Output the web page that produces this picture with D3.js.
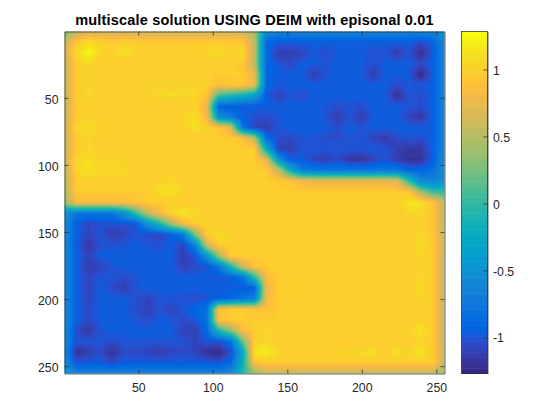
<!DOCTYPE html>
<meta charset="utf-8">
<title>multiscale solution</title>
<style>

body {
  margin: 0;
  background: #fff;
}

text {
  font-family: "Liberation Sans", Arial, sans-serif;
  fill: #262626;
}

.domain, .tick line {
  stroke: #262626;
  stroke-width: .7px;
}

</style>
<body>
<script src="https://d3js.org/d3.v7.min.js"></script>
<script>

var w = 560,
    h = 420;

var titleText = "multiscale solution USING DEIM with episonal 0.01";
var xTicks = [50, 100, 150, 200, 250];
var yTicks = [50, 100, 150, 200, 250];
var barTicks = [-1, -0.5, 0, 0.5, 1];
var barTickLabels = ["-1", "-0.5", "0", "0.5", "1"];
var colorLimits = [-1.27, 1.284];

// solution on a coarse 33 x 33 lattice, rows top to bottom
var solution = [
[.25,.5,.62,.62,.6,.6,.6,.6,.6,.6,.6,.6,.6,.6,.6,.6,.42,-.6,-.64,-.64,-.64,-.64,-.64,-.64,-.64,-.64,-.64,-.64,-.64,-.64,-.64,-.62,-.45],
[.55,.97,1.08,1.02,.96,1.02,.97,.97,.97,.97,.97,.97,.97,.97,.97,.95,.55,-.88,-.97,-.97,-.97,-.97,-.97,-.97,-.97,-.97,-.97,-.97,-.97,-.97,-1.04,-.95,-.6],
[.6,1.05,1.27,1.05,1,1.12,1.01,.97,.97,.97,.97,.97,1.05,1.1,1.01,1.08,.55,-.9,-1.12,-1.12,-1.08,-.98,-1.04,-.98,-.97,-.97,-1.03,-1,-1.12,-1,-1.22,-.98,-.6],
[.55,.97,1.08,.97,.97,.97,.97,.97,.97,.97,.97,.97,.97,.97,.97,.95,.55,-.9,-1,-1.06,-.97,-.97,-1,-.97,-.97,-.97,-1.03,-.97,-.97,-.97,-1.05,-.95,-.6],
[.55,.97,1.02,.97,.97,.97,.97,.97,.97,.97,.97,.97,.97,.97,.97,.97,.75,-.9,-.97,-.97,-.97,-1.12,-1,-.97,-.97,-.97,-1.12,-.97,-.97,-.98,-1.25,-.98,-.6],
[.55,.97,1.05,.97,.97,.97,.97,1.03,1.04,1.03,1.04,1.04,1.02,.88,.95,.95,.75,-.9,-1,-.97,-.97,-.97,-.97,-.97,-.97,-.97,-.97,-.97,-1.05,-.98,-1,-.95,-.6],
[.55,.97,1.06,.97,.97,.97,.97,1.03,1.05,1.05,1.05,1.05,.9,.05,-.1,-.2,-.4,-.95,-1.1,-1,-1.04,-.97,-.97,-.97,-.97,-.97,-.97,-.97,-1.2,-1,-1.04,-.95,-.6],
[.55,.96,1.02,.97,.97,.97,.97,.97,.97,.97,.97,1.02,.75,-.95,-.97,-.97,-.97,-.97,-.97,-.97,-.97,-.97,-1,-1.04,-1,-1.04,-.97,-.97,-.97,-1,-1.04,-.95,-.6],
[.55,.97,1.03,.97,.97,.97,.97,.97,.97,.97,1.05,1.1,.8,-.55,-.7,-.95,-1.02,-1.04,-1,-.97,-.97,-.97,-1,-1.12,-1,-1.12,-.97,-.97,-.97,-1.08,-1.16,-.95,-.6],
[.55,1.05,1.1,1.03,.97,.97,.97,.97,.97,.97,1.02,1.1,1.03,.95,.72,-.78,-1.08,-1.12,-1,-.97,-.97,-.97,-.97,-1.04,-.97,-1,-.97,-.97,-.97,-.97,-.97,-.95,-.6],
[.55,.97,1.05,.97,.97,.97,.97,.97,.97,.97,.97,.97,.97,.97,.97,.93,.55,-.88,-1.04,-1.06,-1,-1,-1.04,-1.04,-1,-1,-1.08,-1.14,-1.04,-1,-1.04,-.95,-.6],
[.55,.97,1.05,.97,.97,.97,.97,.97,.97,.97,.97,.97,.97,.97,.97,.97,.97,-.25,-1.08,-1.12,-1,-1,-1,-1,-1,-1,-.97,-1,-1.12,-1.16,-1.16,-.95,-.6],
[.55,1.05,1.1,1.02,1.05,1.02,.97,.97,.97,.97,.97,.97,.97,.97,.97,.97,.97,.75,-.45,-.95,-.97,-1.08,-1.12,-1.04,-1.16,-1.2,-1.08,-1,-1.12,-1.2,-1.2,-.95,-.55],
[.5,1.05,1.12,1.05,1.08,1.05,.97,.97,.97,.97,.97,.97,.97,.97,.97,.97,.97,.97,.6,-.2,-.7,-.75,-.75,-.75,-.75,-.75,-.75,-.75,-.75,-.88,-.88,-.82,-.55],
[.5,.97,1.02,.97,.97,.97,.97,.97,1.02,1.05,.97,.97,.97,.97,.97,.97,.97,.97,.97,.92,.8,.75,.75,.75,.75,.75,.75,.75,.7,0,-.6,-.65,-.5],
[.45,.95,.97,.97,.97,.97,.97,.97,1.1,1.13,1.02,.97,.97,.97,.97,.97,.97,.97,.97,.97,.97,.97,.97,.97,.97,.97,.97,.97,.97,.97,.4,.05,0],
[.35,.85,.85,.85,.85,.85,.92,.97,.97,.97,.97,.97,.97,.97,.97,.97,.97,.97,.97,.97,.97,.97,.97,.97,.97,.97,.97,.97,.97,1.15,1.12,.92,.55],
[-.5,-.78,-.78,-.78,-.78,-.5,0,.55,.8,1.05,1.15,1.05,.97,.97,.97,.97,.97,.97,.97,.97,.97,.97,.97,.97,.97,.97,.97,.97,.97,1.05,1.05,.92,.55],
[-.55,-.95,-1.08,-1.02,-1.02,-1.02,-1.02,-.5,-.1,.4,.8,.97,1.05,.97,.97,.97,.97,.97,.97,.97,.97,.97,.97,.97,.97,.97,.97,.97,.97,.97,1.02,.92,.55],
[-.55,-.95,-1.08,-1,-1.12,-1.08,-1,-1.04,-1.08,-.95,-.75,.3,.97,1.1,1.02,.97,.97,.97,.97,.97,.97,.97,.97,.97,.97,.97,.97,.97,.97,.97,1.05,.95,.55],
[-.55,-.95,-1.16,-1.02,-1,-1,-.97,-1,-1.02,-.97,-1.08,-.7,.6,.97,.97,.97,.97,.97,.97,.97,.97,.97,.97,.97,.97,.97,.97,.97,.97,.97,1.1,.97,.6],
[-.55,-.95,-1.08,-.97,-.97,-.97,-.97,-.97,-.97,-.97,-1.12,-1,-.5,.4,.97,.97,.97,.97,.97,.97,.97,.97,.97,.97,.97,.97,.97,.97,.97,.97,1.05,.97,.55],
[-.55,-.95,-1.12,-1.08,-1,-.97,-.97,-.97,-.97,-.97,-1.08,-1.06,-1,-.78,-.1,.6,.92,.97,.97,.97,.97,.97,.97,.97,.97,.97,.97,.97,.97,.97,1.02,.97,.55],
[-.55,-.95,-1.08,-1,-1,-1.04,-1,-.97,-.97,-.97,-.97,-.97,-.97,-1,-.95,-.82,-.05,.85,.97,.97,.97,.97,.97,.97,.97,.97,.97,.97,.97,.97,1.05,.97,.55],
[-.55,-.95,-1.08,-.97,-1.04,-1.12,-1,-.97,-.97,-.97,-.97,-.97,-.97,-.97,-.97,-.97,-.95,.75,.97,1.05,.97,.97,.97,.97,.97,.97,.97,.97,.97,.97,1.08,.97,.55],
[-.55,-.95,-1.08,-.97,-.97,-.97,-1.02,-1.08,-1,-1,-1.02,-1.04,-1,-.95,-.88,-.78,-.7,.8,.97,.97,.97,.97,.97,.97,.97,.97,.97,.97,.97,.97,1.05,.97,.55],
[-.55,-.95,-1.05,-.97,-.97,-.97,-1.04,-1.1,-1.02,-1.08,-1,-.9,-.8,.9,.97,.97,.92,.9,.97,.97,.97,.97,.97,.97,.97,.97,.97,.97,.97,.97,.97,.97,.55],
[-.55,-.95,-1.05,-.97,-.97,-.97,-1,-1.04,-.97,-1,-1.05,-1,-.82,.9,.97,.97,.97,.97,.97,.97,.97,.97,.97,.97,.97,.97,.97,.97,.97,.97,1.02,.97,.55],
[-.55,-1.04,-1.16,-1,-.97,-.97,-.97,-.97,-.97,-.97,-1.08,-1.12,-.88,-.1,.3,.85,.97,1.05,.97,.97,.97,.97,.97,.97,.97,.97,.97,.97,1.02,1.02,1.15,.97,.55],
[-.55,-1,-1,-1,-1.04,-1,-1,-1,-1,-1,-1.02,-1.08,-1,-1,-.82,.2,.97,1.05,.97,.97,.97,.97,.97,.97,.97,.97,.97,.97,.97,.97,1.02,.97,.55],
[-.6,-1.2,-1.12,-1.04,-1.2,-1.04,-1.06,-1.08,-1.12,-1.08,-1.04,-1.08,-1.2,-1.25,-1.04,-.3,1.15,1.2,1.05,.97,.97,.97,.97,1.02,1.02,1.05,1.1,.97,1.1,1.02,1.17,.97,.6],
[-.55,-1,-.97,-.97,-1.04,-.97,-.97,-.97,-.97,-.97,-.97,-.97,-.97,-1,-.88,-.2,.9,.97,.97,.97,.97,.97,.97,.97,.97,.97,.97,.97,.97,.97,.97,.97,.55],
[-.4,-.64,-.64,-.64,-.64,-.64,-.64,-.64,-.64,-.64,-.64,-.64,-.64,-.64,-.55,-.05,.35,.55,.55,.55,.55,.55,.55,.55,.55,.55,.55,.55,.55,.55,.55,.55,.35]
];

// parula, 64 steps
var parula = [
[.2081,.1663,.5292],[.2116,.1898,.5777],[.2123,.2138,.6270],[.2081,.2386,.6771],[.1959,.2645,.7279],[.1707,.2919,.7792],[.1253,.3242,.8303],[.0591,.3598,.8683],
[.0117,.3875,.8820],[.0060,.4086,.8828],[.0165,.4266,.8786],[.0329,.4430,.8720],[.0498,.4586,.8641],[.0629,.4737,.8554],[.0723,.4887,.8467],[.0779,.5040,.8384],
[.0793,.5200,.8312],[.0749,.5375,.8263],[.0641,.5570,.8240],[.0488,.5772,.8228],[.0343,.5966,.8199],[.0265,.6137,.8135],[.0239,.6287,.8038],[.0231,.6418,.7913],
[.0228,.6535,.7768],[.0267,.6642,.7607],[.0384,.6743,.7436],[.0590,.6838,.7254],[.0843,.6928,.7062],[.1133,.7015,.6859],[.1453,.7098,.6646],[.1801,.7177,.6424],
[.2178,.7250,.6193],[.2586,.7317,.5954],[.3022,.7376,.5712],[.3482,.7424,.5473],[.3953,.7459,.5244],[.4420,.7481,.5033],[.4871,.7491,.4840],[.5300,.7491,.4661],
[.5709,.7485,.4494],[.6099,.7473,.4337],[.6473,.7456,.4188],[.6834,.7435,.4044],[.7184,.7411,.3905],[.7525,.7384,.3768],[.7858,.7356,.3633],[.8185,.7327,.3498],
[.8507,.7299,.3360],[.8824,.7274,.3217],[.9139,.7258,.3063],[.9450,.7261,.2886],[.9739,.7314,.2666],[.9938,.7455,.2403],[.9990,.7653,.2164],[.9955,.7861,.1967],
[.9880,.8066,.1794],[.9789,.8271,.1633],[.9697,.8481,.1475],[.9626,.8705,.1309],[.9589,.8949,.1132],[.9598,.9218,.0948],[.9661,.9514,.0755],[.9763,.9831,.0538]
].map(function (c) { return d3.rgb(c[0] * 255, c[1] * 255, c[2] * 255); });

var left = 64.5,
    right = 444.5,
    top_ = 31.5,
    bottom = 373.5,
    barLeft = 461.5,
    barRight = 487.5;

var x = d3.scaleLinear().domain([0.5, 255.5]).range([left, right]),
    y = d3.scaleLinear().domain([0.5, 255.5]).range([top_, bottom]),
    barY = d3.scaleLinear().domain(colorLimits).range([bottom, top_]),
    color = d3.scaleQuantize().domain(colorLimits).range(parula);

var col = d3.scaleLinear().domain([left, right]).range([0, solution[0].length - 1]),
    row = d3.scaleLinear().domain([top_, bottom]).range([0, solution.length - 1]);

function valueAt(px, py) {
  var gx = Math.min(col(px), solution[0].length - 1.001),
      gy = Math.min(row(py), solution.length - 1.001),
      i = Math.floor(gx),
      j = Math.floor(gy),
      top = d3.interpolateNumber(solution[j][i], solution[j][i + 1])(gx - i),
      low = d3.interpolateNumber(solution[j + 1][i], solution[j + 1][i + 1])(gx - i);
  return d3.interpolateNumber(top, low)(gy - j);
}

// paint the field to an offscreen canvas, a pixel at a time
var cw = right - left,
    ch = bottom - top_,
    canvas = document.createElement("canvas");
canvas.width = cw;
canvas.height = ch;
var ctx = canvas.getContext("2d"),
    img = ctx.createImageData(cw, ch);

d3.range(ch).forEach(function (py) {
  d3.range(cw).forEach(function (px) {
    var c = color(valueAt(left + px + .5, top_ + py + .5)),
        k = (py * cw + px) * 4;
    img.data[k] = c.r;
    img.data[k + 1] = c.g;
    img.data[k + 2] = c.b;
    img.data[k + 3] = 255;
  });
});
ctx.putImageData(img, 0, 0);

var svg = d3.select("body").append("svg")
    .attr("width", w)
    .attr("height", h)
    .style("display", "block");

svg.append("image")
    .attr("x", left)
    .attr("y", top_)
    .attr("width", cw)
    .attr("height", ch)
    .attr("href", canvas.toDataURL());

svg.selectAll(".band")
    .data(color.range())
  .enter().append("rect")
    .attr("class", "band")
    .attr("x", barLeft)
    .attr("width", barRight - barLeft)
    .attr("y", function (d) { return barY(color.invertExtent(d)[1]); })
    .attr("height", function (d) { return barY(color.invertExtent(d)[0]) - barY(color.invertExtent(d)[1]) + .5; })
    .style("fill", function (d) { return d; });

function noLabels() { return ""; }

function frame(axis, tx, ty, shift) {
  var g = svg.append("g")
      .attr("transform", "translate(" + tx + "," + ty + ")")
      .call(axis);
  g.selectAll("text")
      .style("font-size", "12.3px")
      .attr("transform", "translate(0," + (shift || 0) + ")");
  return g;
}

frame(d3.axisBottom(x).tickValues(xTicks).tickSizeInner(-4).tickSizeOuter(0).tickPadding(9.5), 0, bottom);
frame(d3.axisTop(x).tickValues(xTicks).tickSizeInner(-4).tickSizeOuter(0).tickFormat(noLabels), 0, top_);
frame(d3.axisLeft(y).tickValues(yTicks).tickSizeInner(-4).tickSizeOuter(0).tickPadding(6), left, 0, 1.5);
frame(d3.axisRight(y).tickValues(yTicks).tickSizeInner(-4).tickSizeOuter(0).tickFormat(noLabels), right, 0);

frame(d3.axisRight(barY)
    .tickValues(barTicks)
    .tickSizeInner(-4)
    .tickSizeOuter(0)
    .tickPadding(5.5)
    .tickFormat(function (d, i) { return barTickLabels[i]; }), barRight, 0, .7);

svg.append("rect")
    .attr("x", barLeft)
    .attr("y", top_)
    .attr("width", barRight - barLeft)
    .attr("height", bottom - top_)
    .style("fill", "none")
    .style("stroke", "#262626")
    .style("stroke-width", ".7px");

svg.append("text")
    .attr("x", (left + right) / 2)
    .attr("y", 24.5)
    .attr("text-anchor", "middle")
    .style("font-size", "14.5px")
    .style("letter-spacing", ".18px")
    .style("font-weight", "bold")
    .style("fill", "#000")
    .text(titleText);

</script>
